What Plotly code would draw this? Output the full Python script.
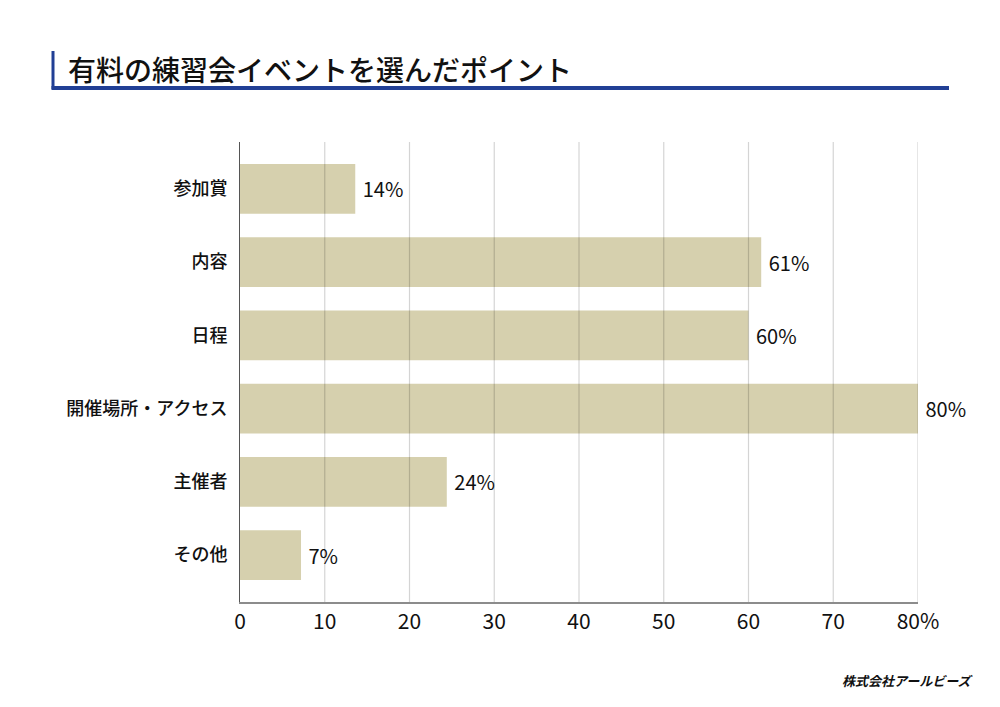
import plotly.graph_objects as go

# data
categories = ["参加賞", "内容", "日程", "開催場所・アクセス", "主催者", "その他"]
values = [13.6, 61.5, 60.0, 80.0, 24.4, 7.2]
value_labels = ["14%", "61%", "60%", "80%", "24%", "7%"]
tick_vals = [0, 10, 20, 30, 40, 50, 60, 70, 80]
tick_text = ["0", "10", "20", "30", "40", "50", "60", "70", "80%"]

FONT = "Noto Sans CJK JP"
BAR = "#d6d0ae"
NAVY = "#213f95"

# the html body has an 8px margin, so work in page pixels minus 8
OFF = 8
W, H = 1000 - OFF, 707 - OFF
L, R, T, B = 240 - OFF, 918 - OFF, 142 - OFF, 602 - OFF


def px_x(x):
    return (x - OFF - L) / (R - L)


def px_y(y):
    return (B - (y - OFF)) / (B - T)


fig = go.Figure()

fig.add_trace(go.Bar(
    x=values,
    y=categories,
    orientation="h",
    width=0.68,
    marker=dict(color=BAR, line_width=0),
    text=value_labels,
    texttemplate="\u00a0%{text}",
    textposition="outside",
    textfont=dict(family=FONT, size=20, color="#111111"),
    cliponaxis=False,
    hoverinfo="skip",
))

shapes = []
# gridlines drawn above the bars so they show through
for v in tick_vals[1:]:
    shapes.append(dict(
        type="line", xref="x", yref="paper",
        x0=v, x1=v, y0=0, y1=1,
        line=dict(color="rgba(0,0,0,0.17)", width=1.2),
        layer="above",
    ))

# title decoration
shapes.append(dict(
    type="line", xref="paper", yref="paper",
    x0=px_x(53), x1=px_x(53), y0=px_y(51), y1=px_y(89),
    line=dict(color=NAVY, width=3),
))
shapes.append(dict(
    type="line", xref="paper", yref="paper",
    x0=px_x(51.5), x1=px_x(949), y0=px_y(88), y1=px_y(88),
    line=dict(color=NAVY, width=4),
))

fig.update_layout(
    width=W,
    height=H,
    margin=dict(l=L, r=W - R, t=T, b=H - B),
    paper_bgcolor="white",
    plot_bgcolor="white",
    showlegend=False,
    shapes=shapes,
    font=dict(family=FONT, color="#111111"),
    xaxis=dict(
        range=[0, 80],
        tickvals=tick_vals,
        ticktext=tick_text,
        showgrid=False,
        zeroline=False,
        showline=True,
        linecolor="#8c8c8c",
        linewidth=2,
        ticks="",
        tickfont=dict(family=FONT, size=21, color="#111111"),
        fixedrange=True,
    ),
    yaxis=dict(
        type="category",
        categoryorder="array",
        categoryarray=categories,
        range=[5.64, -0.64],
        showgrid=False,
        zeroline=False,
        showline=True,
        linecolor="#555555",
        linewidth=1,
        ticks="",
        ticklabelstandoff=8,
        tickfont=dict(family=FONT, size=18, color="#111111", weight=500),
        fixedrange=True,
    ),
    annotations=[
        dict(
            text="有料の練習会イベントを選んだポイント",
            xref="paper", yref="paper",
            x=px_x(66), y=px_y(69),
            xanchor="left", yanchor="middle",
            showarrow=False,
            font=dict(family=FONT, size=28, color="#111111", weight=500),
        ),
        dict(
            text="<b><i>株式会社アールビーズ</i></b>",
            xref="paper", yref="paper",
            x=px_x(976), y=px_y(680),
            xanchor="right", yanchor="middle",
            showarrow=False,
            font=dict(family=FONT, size=13, color="#111111"),
        ),
    ],
)

fig.write_html("out.html")
